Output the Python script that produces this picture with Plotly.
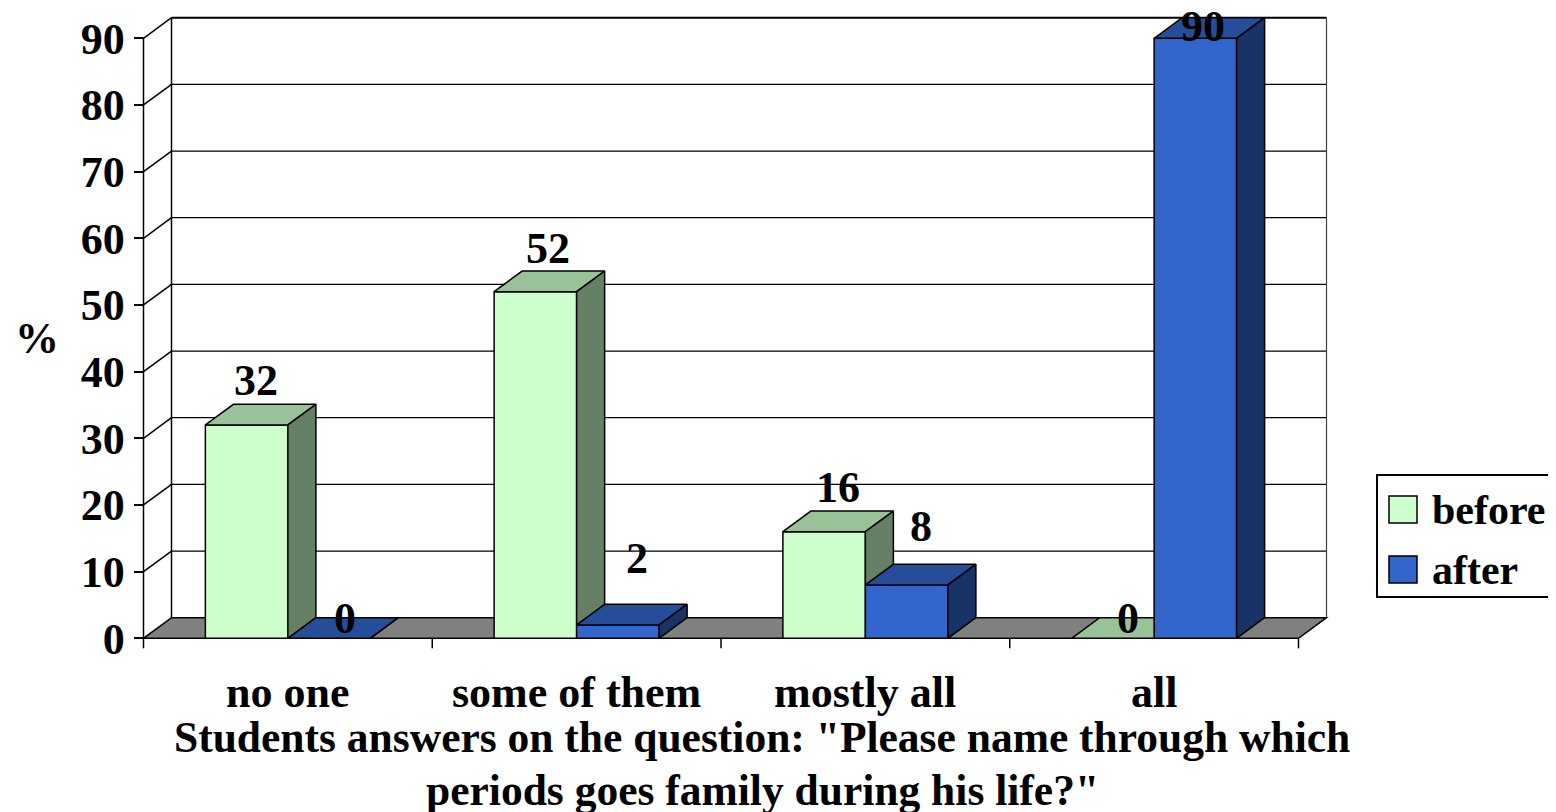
import plotly.graph_objects as go

# ---------------- data ----------------
CATEGORIES = ["no one", "some of them", "mostly all", "all"]
BEFORE = [32, 52, 16, 0]
AFTER = [0, 2, 8, 90]
SERIES_NAMES = ["before", "after"]
Y_TICKS = [0, 10, 20, 30, 40, 50, 60, 70, 80, 90]
Y_TITLE = "%"
X_TITLE = 'Students answers on the question: "Please name through which<br>periods goes family during his life?"'

# ---------------- style ----------------
FRONT = ["#CCFFCC", "#3366CC"]
TOP = ["#99C299", "#264D99"]
SIDE = ["#668066", "#1A3366"]
FLOOR = "#808080"
FONT = "Liberation Serif"
FS = 44
# per-label fine offsets (px) of the value labels
LABEL_SHIFT_X = [[-5, -1, 0, 1], [2, 5, 0, -6]]
LABEL_SHIFT_Y = [[24, 23, 24, -1], [-1, 46, 38, -9]]

# the page body has an 8px margin; all pixel specs below are window pixels
OFF = 8
WIN_W, WIN_H = 1556, 812
PA_L, PA_R, PA_T, PA_B = 100, 1356, 10, 662   # plot area in window pixels
FIG_W, FIG_H = WIN_W - OFF, WIN_H - OFF
ML, MT = PA_L - OFF, PA_T - OFF
MR, MB = FIG_W - (PA_R - OFF), FIG_H - (PA_B - OFF)
PLOT_W = PA_R - PA_L
PLOT_H = PA_B - PA_T
PX_X = 288.75            # px per category
PX_Y = 6.6667            # px per unit of %
FRONT_LEFT_PX = 143.5    # pixel of front y axis
ZERO_PX = 638.3          # pixel of y = 0 on the front
BAR_W = 0.2857           # bar width in category units
DX = 28 / PX_X           # depth offset (x)
DY = 20.6 / PX_Y         # depth offset (y)
YMAX = Y_TICKS[-1]

x_lo = -0.5 - (FRONT_LEFT_PX - PA_L) / PX_X
x_hi = x_lo + PLOT_W / PX_X
y_hi = (ZERO_PX - PA_T) / PX_Y
y_lo = y_hi - PLOT_H / PX_Y


def fx(px):
    return (px - PA_L) / PLOT_W


def fy(py):
    return (PA_B - py) / PLOT_H


def clip_poly(pts, g):
    out = []
    n = len(pts)
    for k in range(n):
        p, q = pts[k], pts[(k + 1) % n]
        gp, gq = g(p), g(q)
        if gp >= 0:
            out.append(p)
        if (gp >= 0) != (gq >= 0):
            t = gp / (gp - gq)
            out.append((p[0] + t * (q[0] - p[0]), p[1] + t * (q[1] - p[1])))
    return out


def top_face(xl, v):
    return [(xl, v), (xl + BAR_W, v), (xl + BAR_W + DX, v + DY), (xl + DX, v + DY)]


def side_face(xl, v):
    xr = xl + BAR_W
    return [(xr, 0), (xr, v), (xr + DX, v + DY), (xr + DX, DY)]


fig = go.Figure()

series = [BEFORE, AFTER]
offsets = [-BAR_W, 0.0]
xs = list(range(len(CATEGORIES)))

# front faces (bars)
for s, vals in enumerate(series):
    fig.add_trace(go.Bar(
        x=xs, y=vals, base=0, width=BAR_W, offset=offsets[s],
        name=SERIES_NAMES[s],
        marker=dict(color=FRONT[s], line=dict(color="black", width=1.5)),
        hoverinfo="skip", showlegend=False,
    ))


def add_poly(pts, color):
    if len(pts) < 3:
        return
    px = [p[0] for p in pts] + [pts[0][0]]
    py = [p[1] for p in pts] + [pts[0][1]]
    fig.add_trace(go.Scatter(
        x=px, y=py, mode="lines", fill="toself", fillcolor=color,
        line=dict(color="black", width=1.5), hoverinfo="skip", showlegend=False,
    ))


# 3D top / side faces
for i in xs:
    v, a = BEFORE[i], AFTER[i]
    xb = i + offsets[0]
    xa = i + offsets[1]
    tb = top_face(xb, v)
    if a >= v + DY:
        tb = clip_poly(tb, lambda p, c=i: c - p[0])
    add_poly(tb, TOP[0])
    if a < v + DY:
        sb = side_face(xb, v)
        if a > 0:
            sb = clip_poly(sb, lambda p, lvl=a: p[1] - lvl)
        add_poly(sb, SIDE[0])
    add_poly(top_face(xa, a), TOP[1])
    add_poly(side_face(xa, a), SIDE[1])

shapes = []
# floor
floor_pts = [(-0.5, 0), (len(xs) - 0.5, 0), (len(xs) - 0.5 + DX, DY), (-0.5 + DX, DY)]
shapes.append(dict(
    type="path", xref="x", yref="y", layer="below",
    path="M " + " L ".join(f"{x},{y}" for x, y in floor_pts) + " Z",
    fillcolor=FLOOR, line=dict(color="black", width=1.5),
))
# back wall gridlines and side-wall diagonals
for t in Y_TICKS[1:]:
    shapes.append(dict(type="line", xref="x", yref="y", layer="below",
                       x0=-0.5 + DX, x1=len(xs) - 0.5 + DX, y0=t + DY, y1=t + DY,
                       line=dict(color="black", width=2 if t == YMAX else 1.3)))
    shapes.append(dict(type="line", xref="x", yref="y", layer="below",
                       x0=-0.5, x1=-0.5 + DX, y0=t, y1=t + DY,
                       line=dict(color="black", width=1.5)))
# back wall edges
shapes.append(dict(type="line", xref="x", yref="y", layer="below",
                   x0=-0.5 + DX, x1=-0.5 + DX, y0=DY, y1=YMAX + DY,
                   line=dict(color="black", width=1.5)))
shapes.append(dict(type="line", xref="x", yref="y", layer="below",
                   x0=len(xs) - 0.5 + DX, x1=len(xs) - 0.5 + DX, y0=DY, y1=YMAX + DY,
                   line=dict(color="#444444", width=1.2)))
# front value axis line
shapes.append(dict(type="line", xref="x", yref="y",
                   x0=-0.5, x1=-0.5, y0=0, y1=YMAX,
                   line=dict(color="black", width=1.5)))
# category boundary ticks
for k in range(len(xs) + 1):
    shapes.append(dict(type="line", xref="x", yref="y",
                       x0=k - 0.5, x1=k - 0.5, y0=0, y1=-10 / PX_Y,
                       line=dict(color="black", width=1.5)))

annotations = []
bold = dict(family=FONT, size=FS, color="black", weight="bold")
# value labels
for s, vals in enumerate(series):
    for i, v in enumerate(vals):
        annotations.append(dict(
            x=i + offsets[s] + BAR_W / 2 + DX / 2, y=v + DY, xref="x", yref="y",
            text=str(v), showarrow=False, xanchor="center", yanchor="middle",
            xshift=LABEL_SHIFT_X[s][i], yshift=LABEL_SHIFT_Y[s][i], font=bold,
        ))
# category labels
for i, c in enumerate(CATEGORIES):
    annotations.append(dict(
        x=i, y=fy(692.5), xref="x", yref="paper", text=c, showarrow=False,
        xanchor="center", yanchor="middle", font=bold,
    ))
# axis titles (x title lines placed one by one)
TITLE_CENTERS = [736.5, 789.5]
title_font = dict(bold, size=43.5)
for line, cy in zip(X_TITLE.split("<br>"), TITLE_CENTERS):
    annotations.append(dict(
        x=fx(762), y=fy(cy), xref="paper", yref="paper", text=line, showarrow=False,
        xanchor="center", yanchor="middle", font=title_font,
    ))
annotations.append(dict(
    x=fx(37), y=fy(338), xref="paper", yref="paper", text=Y_TITLE, showarrow=False,
    xanchor="center", yanchor="middle", font=bold,
))

# legend (drawn manually to get large keys)
shapes.append(dict(type="rect", xref="paper", yref="paper",
                   x0=fx(1377), x1=fx(1575), y0=fy(475), y1=fy(597),
                   line=dict(color="black", width=2), fillcolor="white"))
LEG_ROWS = [510, 570]
legend_font = dict(bold, size=42)
for s in range(2):
    cy = LEG_ROWS[s]
    shapes.append(dict(type="rect", xref="paper", yref="paper",
                       x0=fx(1389), x1=fx(1417), y0=fy(cy - 14), y1=fy(cy + 13),
                       line=dict(color="black", width=1.5), fillcolor=FRONT[s]))
    annotations.append(dict(
        x=fx(1430), y=fy(cy), xref="paper", yref="paper", text=SERIES_NAMES[s],
        showarrow=False, xanchor="left", yanchor="middle", font=legend_font,
    ))

fig.update_layout(
    width=FIG_W, height=FIG_H,
    margin=dict(l=ML, r=MR, t=MT, b=MB, autoexpand=False),
    paper_bgcolor="white", plot_bgcolor="white",
    barmode="overlay", showlegend=False,
    shapes=shapes, annotations=annotations,
    xaxis=dict(range=[x_lo, x_hi], showgrid=False, zeroline=False, showline=False,
               showticklabels=False, ticks="", fixedrange=True),
    yaxis=dict(range=[y_lo, y_hi], anchor="free", position=(FRONT_LEFT_PX - PA_L) / PLOT_W,
               tickvals=Y_TICKS, ticks="outside", ticklen=10, tickwidth=1.5,
               tickcolor="black", showgrid=False, zeroline=False, showline=False,
               tickfont=bold, fixedrange=True),
)

fig.write_html("out.html")
